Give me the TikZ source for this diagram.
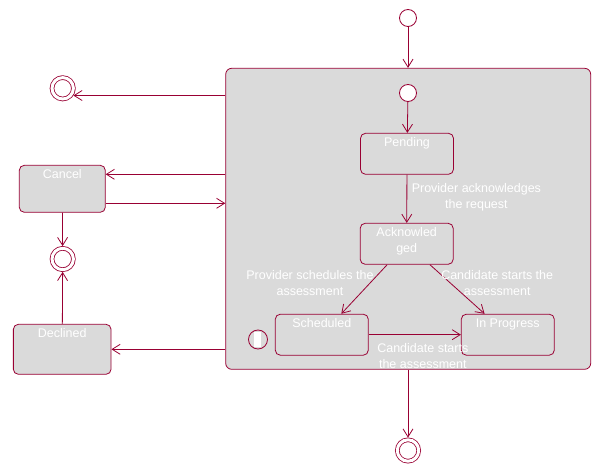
\documentclass[tikz,border=0pt]{standalone}
\usepackage{fontspec}
\setmainfont{Liberation Sans}
\usepackage{tikz}
\usetikzlibrary{shapes,arrows.meta,positioning,calc}

\definecolor{umlred}{RGB}{153,0,51}
\definecolor{umlgray}{RGB}{218,218,218}
\newcommand{\umlfont}{\fontsize{12.5}{16}\selectfont}

\begin{document}
\begin{tikzpicture}[
    x=1pt, y=-1pt,
    comp/.style={rectangle, rounded corners=6pt, draw=umlred, fill=umlgray, line width=0.8pt, minimum width=365pt, minimum height=301pt},
    state/.style={rectangle, rounded corners=5pt, draw=umlred, fill=umlgray, line width=0.8pt, minimum width=93pt, minimum height=41pt, inner sep=0pt},
    startst/.style={circle, draw=umlred, fill=white, line width=0.8pt, minimum size=17pt, inner sep=0pt},
    endst/.style={circle, draw=umlred, fill=white, line width=0.8pt, double=white, double distance=3pt, minimum size=21.4pt, inner sep=0pt, outer sep=2.2pt},
    histst/.style={circle, draw=umlred, fill=umlgray, line width=0.8pt, minimum size=19pt, inner sep=0pt,
        path picture={\fill[white] ([xshift=-4pt,yshift=-7.5pt]path picture bounding box.center) rectangle ++(6.5pt,15pt);}},
    lbl/.style={text=white, font=\umlfont, align=center, inner sep=2pt},
    boxtext/.style={lbl, anchor=north, inner ysep=4.5pt},
    tr/.style={draw=umlred, line width=0.8pt, -{Straight Barb[length=8pt,width=10pt]}}
]
\useasboundingbox (0,0) rectangle (606,476);

% composite state
\node[startst] (start) at (408,18) {};
\node[comp] (comp) at (408.2,218.8) {};
\node[startst] (inner) at (408,93) {};
\node[state, label={[boxtext]north:Pending}] (pend) at (407,153.8) {};
\node[state, label={[boxtext]north:{Acknowled\\ged}}] (ack) at (406.7,243.8) {};
\node[state, label={[boxtext]north:Scheduled}] (sched) at (321.8,334.7) {};
\node[state, label={[boxtext]north:In Progress}] (prog) at (507.8,334.7) {};
\node[histst] (hist) at (258,339.5) {};
\node[endst] (done) at (408,450.5) {};

% left column
\node[endst] (exit) at (62.7,88.3) {};
\node[state, minimum width=86pt, minimum height=47pt, label={[boxtext]north:Cancel}] (cancel) at (62.3,188.8) {};
\node[endst] (closed) at (62.7,259) {};
\node[state, minimum width=97.7pt, minimum height=50pt, label={[boxtext]north:Declined}] (decl) at (62.2,349.3) {};

\coordinate (cin) at ([yshift=14.5pt]cancel.east);
\coordinate (cout) at ([yshift=-14.5pt]cancel.east);

\draw[tr] (start) -- (start |- comp.north);
\draw[tr] (inner) -- (pend);
\draw[tr] (pend) -- node[lbl, right, pos=0.46, xshift=2.5pt] {Provider acknowledges\\the request} (ack);
\draw[tr] (ack) -- node[lbl, anchor=east, pos=0.37, xshift=5.7pt] {Provider schedules the\\assessment} (sched);
\draw[tr] (ack) -- node[lbl, anchor=west, pos=0.37, xshift=-11.3pt] {Candidate starts the\\assessment} (prog);
\draw[tr] (sched) -- node[lbl, below=6.3pt, pos=0.587] {Candidate starts\\the assessment} (prog);
\draw[tr] (done |- comp.south) -- (done);

\draw[tr] (comp.west |- exit.-34) -- (exit.-34);
\draw[tr] (comp.west |- cin) -- (cin);
\draw[tr] (cout) -- (comp.west |- cout);
\draw[tr] (cancel) -- (closed);
\draw[tr] (decl) -- (closed);
\draw[tr] (comp.west |- decl.east) -- (decl.east);

\end{tikzpicture}
\end{document}
